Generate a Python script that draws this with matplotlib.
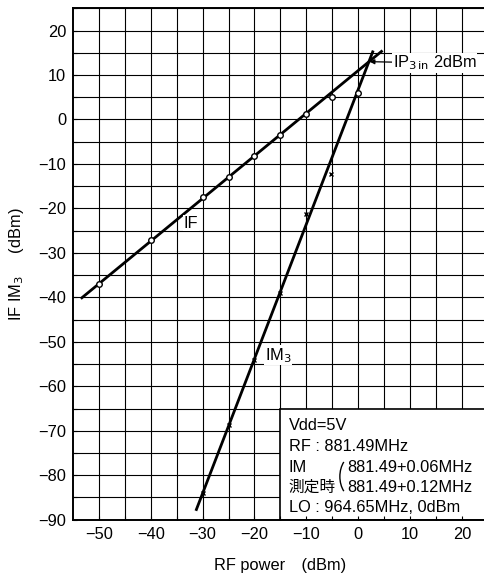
import numpy as np
import matplotlib
matplotlib.use("Agg")
import matplotlib.pyplot as plt
from matplotlib.patches import Arc, Rectangle

plt.rcParams['font.family'] = ['Liberation Sans', 'Noto Sans CJK JP', 'DejaVu Sans']
plt.rcParams['font.size'] = 11.8

# measured points
if_x = [-50, -40, -30, -25, -20, -15, -10, -5, 0]
if_y = [-36.9, -27.0, -17.5, -13.0, -8.3, -3.5, 1.3, 5.0, 6.0]
im3_x = [-30, -25, -20, -15, -10, -5.3]
im3_y = [-84.1, -68.8, -54.1, -39.0, -21.2, -12.3]

# fitted straight lines (end points)
if_fit_x = [-53.5, 4.7]
if_fit_y = [-40.3, 15.5]
im3_fit_x = [-31.3, 2.9]
im3_fit_y = [-88.0, 15.5]

ip3_x, ip3_y = 2.2, 13.0

xticks = np.arange(-50, 21, 10)
yticks = np.arange(-90, 21, 10)
xgrid = np.arange(-50, 26, 5)
ygrid = np.arange(-85, 26, 5)

fs = 11.8

fig = plt.figure(figsize=(4.84, 5.77), dpi=100)
ax = fig.add_axes([73 / 484, 1 - 519.7 / 577, (487.8 - 73) / 484, (519.7 - 8.3) / 577])
ax.set_xlim(-55, 25)
ax.set_ylim(-90, 25)

# grid drawn by hand so the info box can cover it
for gx in xgrid:
    ax.axvline(gx, color='black', lw=0.8, zorder=0.5)
for gy in ygrid:
    ax.axhline(gy, color='black', lw=0.8, zorder=0.5)

ax.plot(if_fit_x, if_fit_y, color='black', lw=2, solid_capstyle='butt', zorder=3)
ax.plot(im3_fit_x, im3_fit_y, color='black', lw=2, solid_capstyle='butt', zorder=3)
ax.plot(if_x, if_y, 'o', ms=4, mfc='white', mec='black', mew=1, zorder=4)
ax.plot(im3_x, im3_y, 'x', ms=3.5, color='black', mew=1, zorder=4)

wb = dict(facecolor='white', edgecolor='none', pad=0.5)
ax.text(-32.2, -23.3, 'IF', ha='center', va='center', fontsize=fs, bbox=wb, zorder=5)
ax.text(-18.0, -53.0, 'IM$_3$', ha='left', va='center', fontsize=fs, bbox=wb, zorder=5)
ax.annotate('IP$_{3\\,\\mathrm{in}}$ 2dBm', xy=(ip3_x, ip3_y), xytext=(6.7, 12.7),
            ha='left', va='center', fontsize=fs, bbox=dict(facecolor='white', edgecolor='none', pad=0.3),
            arrowprops=dict(arrowstyle='-|>', color='black', lw=0.9, mutation_scale=7,
                            shrinkA=0, shrinkB=0), zorder=5)

# info box
box = Rectangle((-15, -90), 45, 25, facecolor='white', edgecolor='black', lw=1.2, zorder=1)
ax.add_patch(box)
tx = -13.4
ax.text(tx, -68.8, 'Vdd=5V', va='center', fontsize=fs, zorder=5)
ax.text(tx, -73.5, 'RF : 881.49MHz', va='center', fontsize=fs, zorder=5)
ax.text(tx, -78.2, 'IM', va='center', fontsize=fs, zorder=5)
ax.text(tx, -82.8, '測定時', va='center', fontsize=11.3, zorder=5)
ax.add_patch(Arc((-0.87, -80.3), 5.32, 9.35, theta1=120, theta2=240, color='black', lw=1, zorder=5))
ax.text(-2.1, -78.2, '881.49+0.06MHz', va='center', fontsize=fs, zorder=5)
ax.text(-2.1, -82.8, '881.49+0.12MHz', va='center', fontsize=fs, zorder=5)
ax.text(tx, -87.3, 'LO : 964.65MHz, 0dBm', va='center', fontsize=fs, zorder=5)

ax.set_xticks(xticks)
ax.set_yticks(yticks)
ax.set_xticks(xgrid, minor=True)
ax.set_yticks(np.arange(-90, 26, 5), minor=True)
ax.set_xticklabels([f'\u2212{abs(v)}' if v < 0 else str(v) for v in xticks])
ax.set_yticklabels([f'\u2212{abs(v)}' if v < 0 else str(v) for v in yticks])
ax.tick_params(which='both', direction='in', length=3, width=0.8, labelsize=fs, pad=5)
ax.set_axisbelow(False)
for s in ['left', 'bottom', 'top']:
    ax.spines[s].set_linewidth(1.4)
ax.spines['right'].set_visible(False)

ax.set_xlabel('RF power\u3000(dBm)', fontsize=fs, labelpad=12)
ax.set_ylabel('IF IM$_3$     (dBm)', fontsize=fs, labelpad=9)

fig.savefig('out.png', dpi=100)
